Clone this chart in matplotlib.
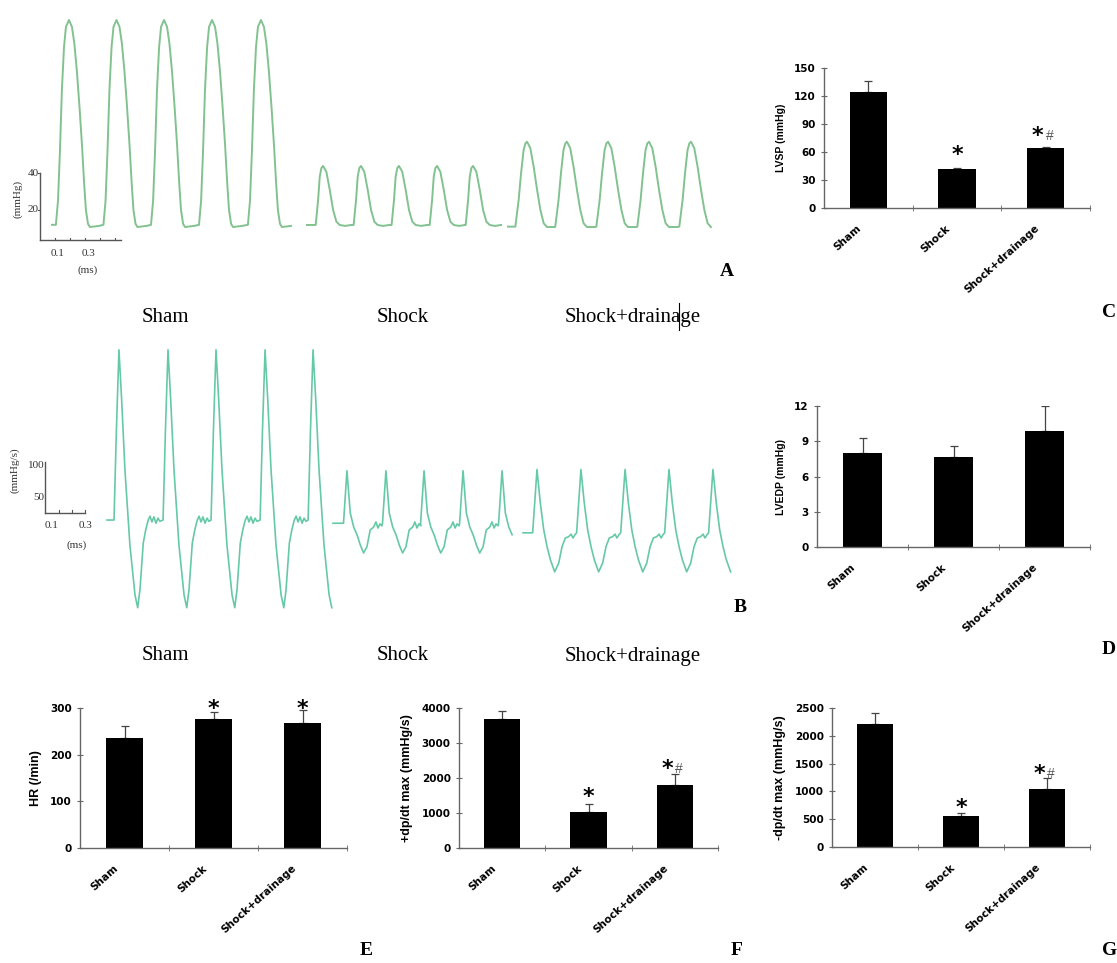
import numpy as np
import matplotlib
matplotlib.use("Agg")
import matplotlib.pyplot as plt
from matplotlib.lines import Line2D

W, H = 1117, 963

groups = ["Sham", "Shock", "Shock+drainage"]

# bar chart values: mean and upper SD
lvsp = [124.6, 41.8, 64.0]
lvsp_sd = [11.8, 0.7, 1.4]
lvedp = [7.97, 7.69, 9.9]
lvedp_sd = [1.33, 0.93, 2.1]
hr = [235, 277, 268]
hr_sd = [27, 15, 28]
dpdt_up = [3686, 1038, 1800]
dpdt_up_sd = [237, 219, 306]
dpdt_down = [2207, 563, 1038]
dpdt_down_sd = [198, 43, 198]

# significance marks (group index, height in data units)
lvsp_star = [(1, 57), (2, 77)]
lvsp_hash = [(2, 77)]
hr_star = [(1, 298), (2, 298)]
up_star = [(1, 1450), (2, 2260)]
up_hash = [(2, 2260)]
down_star = [(1, 700), (2, 1310)]
down_hash = [(2, 1310)]

# panel A: LV pressure, one beat per group as offsets from the peak
a_sham_dt = [-0.087, -0.073, -0.06, -0.047, -0.033, -0.02, 0, 0.02, 0.036, 0.053,
             0.07, 0.087, 0.1, 0.113, 0.127, 0.14, 0.2]
a_sham_p = [12.0, 25.0, 52.0, 85.0, 108.0, 119.0, 122.7, 119.0, 110.0, 95.0,
            76.0, 55.0, 36.0, 20.0, 12.5, 10.8, 11.4]
a_sham_peaks = [0.193, 0.51, 0.827, 1.147, 1.473]
a_sham_span = (0.08, 1.68)

a_shock_dt = [-0.049, -0.033, -0.022, -0.011, 0, 0.022, 0.045, 0.067, 0.089, 0.111,
              0.147, 0.187]
a_shock_p = [11.9, 25.4, 38.0, 42.7, 43.8, 40.7, 30.8, 20.0, 13.7, 11.9, 11.4, 11.9]
a_shock_peaks = [1.887, 2.14, 2.393, 2.647, 2.887]
a_shock_span = (1.78, 3.08)

a_drain_dt = [-0.078, -0.056, -0.04, -0.023, -0.011, 0, 0.022, 0.044, 0.067, 0.089,
              0.111, 0.133, 0.187]
a_drain_p = [11.0, 25.4, 39.8, 52.4, 56.0, 56.9, 53.4, 43.4, 30.8, 20.0,
             12.8, 10.8, 10.8]
a_drain_peaks = [3.247, 3.513, 3.787, 4.06, 4.34]
a_drain_span = (3.12, 4.52)

# panel B: dp/dt
b_sham_dt = [-0.033, -0.017, 0, 0.018, 0.04, 0.073, 0.107, 0.125, 0.14, 0.162,
             0.178, 0.195, 0.207, 0.22, 0.233, 0.247, 0.26, 0.273]
b_sham_v = [14, 155, 280, 202, 92, -25, -103, -123, -95, -22,
            -2, 14, 20, 11, 19, 9, 17, 12]
b_sham_peaks = [0.493, 0.82, 1.14, 1.467, 1.787]
b_sham_span = (0.413, 1.915)

b_shock_dt = [-0.023, 0, 0.022, 0.045, 0.067, 0.089, 0.111, 0.133, 0.155, 0.178,
              0.193, 0.207, 0.22, 0.233]
b_shock_v = [9, 91, 25, 3, -9, -25, -37.5, -28, -1.5, 3, 11, 1.5, 8, 5]
b_shock_peaks = [2.013, 2.273, 2.527, 2.787, 3.047]
b_shock_span = (1.92, 3.12)

b_drain_dt = [-0.029, 0, 0.022, 0.045, 0.067, 0.089, 0.118, 0.145, 0.167, 0.189,
              0.211, 0.227, 0.24, 0.253]
b_drain_v = [-6, 93, 41, -1.5, -27.5, -48, -67, -53, -27.5, -14, -12, -8, -14, -9]
b_drain_peaks = [3.28, 3.573, 3.867, 4.16, 4.453]
b_drain_span = (3.187, 4.575)


def tile(peaks, dt, val, span):
    t = [span[0]]
    v = [val[0]]
    for p in peaks:
        for d, y in zip(dt, val):
            if span[0] < p + d <= span[1]:
                t.append(p + d)
                v.append(y)
    return t, v


def px_box(x0, x1, ytop, ybot):
    return [x0 / W, 1 - ybot / H, (x1 - x0) / W, (ybot - ytop) / H]


def ftext(x, y, s, **kw):
    fig.text(x / W, 1 - y / H, s, **kw)


fig = plt.figure(figsize=(W / 100, H / 100), dpi=100)

serif = "Liberation Serif"
sans = "Liberation Sans"
wide = "DejaVu Sans"

# ---- panel A traces ----
green = "#82c290"
axA = fig.add_axes([0, 0, 1, 1])
axA.set_xlim(-40 / 150, (W - 40) / 150)
axA.set_ylim((247 - H) / 1.85, 247 / 1.85)
axA.axis("off")
axA.patch.set_alpha(0)
for pk, dt, pv, sp in [(a_sham_peaks, a_sham_dt, a_sham_p, a_sham_span),
                       (a_shock_peaks, a_shock_dt, a_shock_p, a_shock_span),
                       (a_drain_peaks, a_drain_dt, a_drain_p, a_drain_span)]:
    t, v = tile(pk, dt, pv, sp)
    axA.plot(t, v, color=green, lw=1.4, solid_joinstyle="round")

# scale bar A
sc = "#555555"
axA.plot([0, 0], [3.8, 40], color=sc, lw=1)
axA.plot([0, 0.54], [3.8, 3.8], color=sc, lw=1)
for tk in [0.1, 0.2, 0.3, 0.4, 0.5]:
    axA.plot([tk, tk], [3.8, 5.0], color=sc, lw=0.8)
for tk in [20, 40]:
    axA.plot([-0.015, 0], [tk, tk], color=sc, lw=0.8)
axA.text(-0.01, 40, "40", ha="right", va="center", fontsize=8, family=serif, color="#333")
axA.text(-0.01, 20, "20", ha="right", va="center", fontsize=8, family=serif, color="#333")
axA.text(-0.15, 26, "(mmHg)", ha="center", va="center", rotation=90, fontsize=8,
         family=serif, color="#333")
axA.text(0.12, -3.5, "0.1", ha="center", va="center", fontsize=8, family=serif, color="#333")
axA.text(0.32, -3.5, "0.3", ha="center", va="center", fontsize=8, family=serif, color="#333")
axA.text(0.32, -12.5, "(ms)", ha="center", va="center", fontsize=8, family=serif, color="#333")

# ---- panel B traces ----
teal = "#66c9a6"
axB = fig.add_axes([0, 0, 1, 1])
axB.set_xlim(-45 / 150, (W - 45) / 150)
axB.set_ylim((529 - H) / 0.64, 529 / 0.64)
axB.axis("off")
axB.patch.set_alpha(0)
for pk, dt, bv, sp in [(b_sham_peaks, b_sham_dt, b_sham_v, b_sham_span),
                       (b_shock_peaks, b_shock_dt, b_shock_v, b_shock_span),
                       (b_drain_peaks, b_drain_dt, b_drain_v, b_drain_span)]:
    t, v = tile(pk, dt, bv, sp)
    axB.plot(t, v, color=teal, lw=1.2, solid_joinstyle="round")

axB.plot([0, 0], [25, 105], color=sc, lw=1)
axB.plot([0, 0.267], [25, 25], color=sc, lw=1)
for tk in [0.09, 0.18, 0.267]:
    axB.plot([tk, tk], [25, 29], color=sc, lw=0.8)
axB.text(-0.005, 100, "100", ha="right", va="center", fontsize=8, family=serif, color="#333")
axB.text(-0.005, 50, "50", ha="right", va="center", fontsize=8, family=serif, color="#333")
axB.text(-0.2, 92, "(mmHg/s)", ha="center", va="center", rotation=90, fontsize=8,
         family=serif, color="#333")
axB.text(0.047, 6, "0.1", ha="center", va="center", fontsize=8, family=serif, color="#333")
axB.text(0.267, 6, "0.3", ha="center", va="center", fontsize=8, family=serif, color="#333")
axB.text(0.213, -25, "(ms)", ha="center", va="center", fontsize=8, family=serif, color="#333")

# group labels under traces
for yy in [317, 656]:
    for xx, g in zip([165, 403, 633], groups):
        ftext(xx, yy, g, ha="center", va="center", fontsize=15, family=serif)
fig.add_artist(Line2D([679 / W, 679 / W], [1 - 303 / H, 1 - 330 / H], color="black", lw=0.8))

# panel letters
for xx, yy, s, ha in [(727, 271, "A", "center"), (740, 608, "B", "center"),
                      (1102, 312, "C", "left"), (1102, 650, "D", "left"),
                      (366, 950, "E", "center"), (737, 950, "F", "center"),
                      (1102, 950, "G", "left")]:
    ftext(xx, yy, s, ha=ha, va="center", fontsize=14, family=serif, weight="bold")


# ---- bar charts ----
def bar_panel(box, vals, sds, ymax, step, ylabel, ylsize, stars=(), hashes=()):
    ax = fig.add_axes(px_box(*box))
    ax.patch.set_alpha(0)
    x = np.arange(len(groups))
    ax.errorbar(x, vals, yerr=[np.zeros(len(vals)), sds], fmt="none", ecolor="#444",
                elinewidth=0.9, capsize=3, capthick=0.9, zorder=1)
    ax.bar(x, vals, width=0.42, color="black", zorder=2)
    ax.set_xlim(-0.5, 2.5)
    ax.set_ylim(0, ymax)
    ax.set_yticks(np.arange(0, ymax + step / 2, step))
    ax.set_xticks(x - 0.13)
    ax.set_xticklabels(groups, rotation=42, ha="right", rotation_mode="anchor")
    ax.set_xticks([0.5, 1.5, 2.5], minor=True)
    ax.tick_params(axis="x", which="major", length=0, pad=11)
    ax.tick_params(axis="x", which="minor", length=4, direction="inout", color="#666")
    ax.tick_params(axis="y", length=4, direction="inout", color="#666", pad=4)
    for lab in ax.get_xticklabels() + ax.get_yticklabels():
        lab.set_fontfamily(wide)
        lab.set_fontweight("bold")
        lab.set_fontsize(7.5)
    ax.set_ylabel(ylabel, fontfamily=sans, fontweight="bold", fontsize=ylsize, labelpad=6)
    for s in ["top", "right"]:
        ax.spines[s].set_visible(False)
    for s in ["left", "bottom"]:
        ax.spines[s].set_color("#666")
        ax.spines[s].set_linewidth(1.0)
    has_hash = [i for i, _ in hashes]
    for i, yv in stars:
        dx = -0.09 if i in has_hash else 0
        ax.text(i + dx, yv, "*", ha="center", va="center", fontsize=16,
                family=wide, weight="bold", clip_on=False, zorder=3)
    for i, yv in hashes:
        ax.text(i + 0.05, yv, "#", ha="center", va="center", fontsize=10,
                family=sans, color="#555", clip_on=False)
    return ax


bar_panel((824, 1090, 68, 208), lvsp, lvsp_sd, 150, 30, "LVSP (mmHg)", 7.5,
          lvsp_star, lvsp_hash)
bar_panel((817, 1090, 406, 547), lvedp, lvedp_sd, 12, 3, "LVEDP (mmHg)", 7.5)
bar_panel((80, 347, 708, 848), hr, hr_sd, 300, 100, "HR (/min)", 9, hr_star)
bar_panel((459, 718, 708, 848), dpdt_up, dpdt_up_sd, 4000, 1000, "+dp/dt max (mmHg/s)", 9,
          up_star, up_hash)
bar_panel((832, 1090, 708, 847), dpdt_down, dpdt_down_sd, 2500, 500, "-dp/dt max (mmHg/s)", 9,
          down_star, down_hash)

fig.savefig("out.png", dpi=100)
